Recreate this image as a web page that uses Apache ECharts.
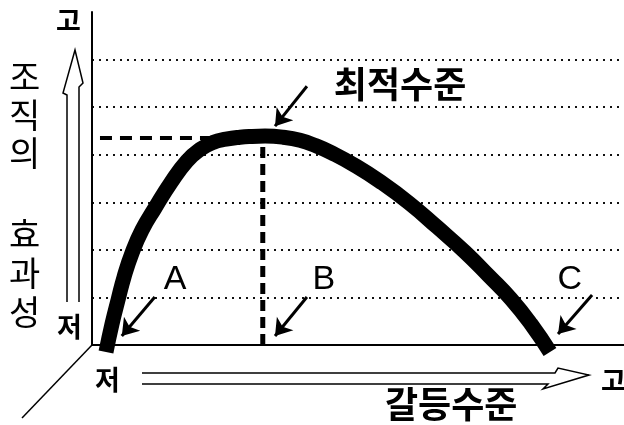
<!DOCTYPE html>
<html>
<head>
<meta charset="utf-8">
<script src="https://cdn.jsdelivr.net/npm/echarts@6/dist/echarts.min.js"></script>
<style>
  html, body { margin: 0; padding: 0; background: #fff; }
  #chart { width: 624px; height: 425px; }
</style>
</head>
<body>
<div id="chart"></div>
<script>
// 갈등수준(x) 에 따른 조직의 효과성(y) - 역U자 곡선
const curveX = [0.263, 0.376, 0.489, 0.602, 0.752, 0.940, 1.184, 1.485, 1.786, 2.030,
                2.274, 2.519, 2.782, 3.008, 3.252, 3.590, 3.910, 4.211, 4.511, 4.944,
                5.414, 5.959, 6.485, 7.011, 7.462, 7.876, 8.252, 8.609];
const curveY = [-0.147, 0.441, 0.946, 1.429, 1.934, 2.417, 2.880, 3.416, 3.868, 4.110,
                4.257, 4.326, 4.368, 4.385, 4.391, 4.368, 4.303, 4.187, 4.036, 3.773,
                3.437, 2.985, 2.481, 1.955, 1.450, 0.967, 0.441, -0.147];

// 최적수준 점과 보조 점선 시작
const optimum = [3.21, 4.35];
const guideStartX = 0.15;

// 라벨 (A, B, C, 최적수준)
const pointNames = ['A', 'B', 'C', '최적수준'];
const labelX = [1.56, 4.36, 8.98, 5.79];
const labelY = [1.37, 1.37, 1.37, 5.49];

// 라벨에서 곡선을 가리키는 화살표
const arrowTail = [[1.18, 1.01], [4.04, 1.01], [9.40, 1.05], [4.04, 5.44]];
const arrowTip = [[0.56, 0.19], [3.44, 0.19], [8.76, 0.23], [3.44, 4.60]];

const chart = echarts.init(document.getElementById('chart'));

const kr = '"Noto Sans CJK KR", sans-serif';

const labelData = pointNames.map((name, i) => ({
  name: name,
  value: [labelX[i], labelY[i]],
  label: i < 3
    ? { fontFamily: '"Liberation Sans", Arial, sans-serif', fontSize: 34 }
    : { fontFamily: kr, fontSize: 36, fontWeight: 'bold' }
}));

const option = {
  animation: false,
  backgroundColor: '#fff',
  grid: { left: 92, right: 0, top: 12, bottom: 80 },
  xAxis: {
    type: 'value',
    min: 0,
    max: 10,
    axisLine: { lineStyle: { color: '#000', width: 2 } },
    axisTick: { show: false },
    axisLabel: { show: false },
    splitLine: { show: false }
  },
  yAxis: {
    type: 'value',
    min: 0,
    max: 7,
    interval: 1,
    axisLine: { show: true, lineStyle: { color: '#000', width: 2 } },
    axisTick: { show: false },
    axisLabel: { show: false },
    splitLine: {
      show: true,
      showMinLine: false,
      showMaxLine: false,
      lineStyle: { color: '#111', width: 2, type: [2, 5] }
    }
  },
  series: [
    {
      // 가로 점선 (최적 효과성)
      type: 'line',
      data: [[guideStartX, optimum[1]], optimum],
      showSymbol: false,
      lineStyle: { color: '#000', width: 4, type: [12, 8] },
      z: 2
    },
    {
      // 세로 점선 (최적 갈등수준)
      type: 'line',
      data: [[optimum[0], 0], optimum],
      showSymbol: false,
      lineStyle: { color: '#000', width: 5, type: [11, 6] },
      z: 2
    },
    {
      type: 'line',
      data: curveX.map((x, i) => [x, curveY[i]]),
      smooth: 0.5,
      showSymbol: false,
      clip: false,
      lineStyle: { color: '#000', width: 15, cap: 'butt', join: 'round' },
      z: 3
    },
    {
      type: 'lines',
      coordinateSystem: 'cartesian2d',
      data: arrowTail.map((t, i) => ({ coords: [t, arrowTip[i]] })),
      symbol: ['none', 'arrow'],
      symbolSize: [11, 16],
      lineStyle: { color: '#000', width: 3, opacity: 1 },
      z: 4
    },
    {
      type: 'scatter',
      data: labelData,
      symbolSize: 0,
      itemStyle: { opacity: 1 },
      label: {
        show: true,
        position: 'inside',
        formatter: '{b}',
        color: '#000',
        opacity: 1
      },
      z: 5
    }
  ],
  graphic: [
    // 원점에서 왼쪽 아래로 뻗는 사선
    { type: 'line', shape: { x1: 92, y1: 345, x2: 22, y2: 418 }, style: { stroke: '#000', lineWidth: 1.5 } },
    // 세로 속빈 화살표
    {
      type: 'polyline',
      shape: { points: [[67, 302], [67, 95], [63, 93], [75, 50], [83, 83], [79, 87], [79, 302]] },
      style: { stroke: '#000', lineWidth: 1.5, fill: null }
    },
    // 가로 속빈 화살표
    {
      type: 'polyline',
      shape: { points: [[142, 373], [555, 373], [558, 368], [589, 375], [543, 389], [548, 384], [142, 384]] },
      style: { stroke: '#000', lineWidth: 1.5, fill: null }
    },
    { type: 'text', left: 56, top: 7, style: { text: '고', font: 'bold 27px ' + kr, fill: '#000' } },
    { type: 'text', left: 57, top: 313, style: { text: '저', font: 'bold 27px ' + kr, fill: '#000' } },
    { type: 'text', left: 95, top: 366, style: { text: '저', font: 'bold 27px ' + kr, fill: '#000' } },
    { type: 'text', left: 601, top: 367, style: { text: '고', font: 'bold 27px ' + kr, fill: '#000' } },
    {
      type: 'text', left: 9, top: 58,
      style: { text: '조\n직\n의', font: '34px ' + kr, lineHeight: 38, fill: '#000' }
    },
    {
      type: 'text', left: 9, top: 215,
      style: { text: '효\n과\n성', font: '34px ' + kr, lineHeight: 39, fill: '#000' }
    },
    { type: 'text', left: 385, top: 386, style: { text: '갈등수준', font: 'bold 36px ' + kr, fill: '#000' } }
  ]
};

chart.setOption(option);
</script>
</body>
</html>
